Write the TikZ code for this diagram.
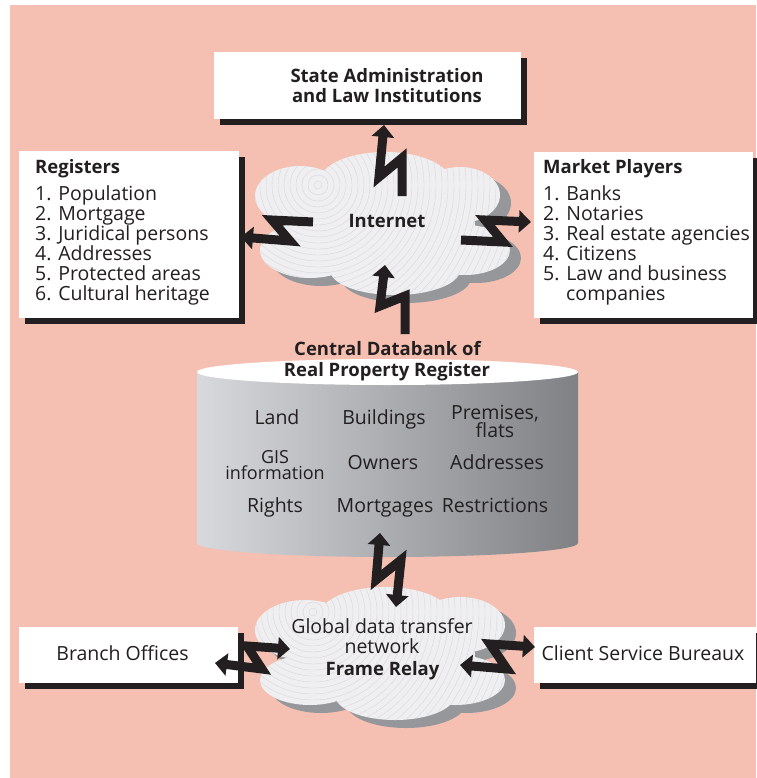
\documentclass[tikz,border=0pt]{standalone}
\usepackage{fontspec}
\setmainfont{Open Sans}
\usetikzlibrary{arrows.meta,shadows}
\definecolor{bg}{RGB}{245,192,178}
\definecolor{ink}{RGB}{35,31,32}
\definecolor{cloudfill}{RGB}{239,239,241}
\definecolor{cloudline}{RGB}{216,216,221}
\definecolor{cloudshadow}{RGB}{150,151,155}
\definecolor{cylL}{RGB}{216,217,220}
\definecolor{cylM}{RGB}{186,187,190}
\definecolor{cylR}{RGB}{128,129,133}
\newcommand\fs{\fontsize{19.5}{20}\selectfont}
\newcommand\fsb{\fontsize{18.5}{20}\selectfont\bfseries}
\newcommand\inetlobes{(300,196) ellipse[x radius=45pt,y radius=30pt]
  (385,181) ellipse[x radius=65pt,y radius=29pt]
  (460,195) ellipse[x radius=40pt,y radius=28pt]
  (465,250) ellipse[x radius=45pt,y radius=25pt]
  (395,270) ellipse[x radius=65pt,y radius=25pt]
  (310,250) ellipse[x radius=50pt,y radius=28pt]
  (385,225) ellipse[x radius=90pt,y radius=50pt]}
\newcommand\frlobes{(385,615) ellipse[x radius=65pt,y radius=28pt]
  (305,630) ellipse[x radius=50pt,y radius=30pt]
  (460,625) ellipse[x radius=45pt,y radius=28pt]
  (310,680) ellipse[x radius=50pt,y radius=25pt]
  (455,680) ellipse[x radius=50pt,y radius=25pt]
  (395,695) ellipse[x radius=60pt,y radius=25pt]
  (385,655) ellipse[x radius=90pt,y radius=45pt]}
\begin{document}
\begin{tikzpicture}[x=1pt,y=-1pt,
  box/.style={fill=white, inner sep=0pt, anchor=north west,
    drop shadow={shadow xshift=6pt, shadow yshift=-6pt, fill=ink, opacity=1}},
  txt/.style={inner sep=0pt, text=ink, font=\fs, anchor=base west},
  txtb/.style={txt, font=\fsb},
  ctxt/.style={txt, anchor=base},
  ctxtb/.style={txtb, anchor=base},
  bolt/.style={draw=ink, line width=9pt, line join=miter, miter limit=10, -{Triangle[width=22pt,length=12pt]}},
  dbolt/.style={bolt, {Triangle[width=22pt,length=12pt]}-{Triangle[width=22pt,length=12pt]}},
]
\useasboundingbox (0,0) rectangle (756,778);
\fill[bg] (10,5) rectangle (756,778);

% boxes
\node[box, minimum width=307pt, minimum height=67pt] (state) at (214,52) {};
\node[box, minimum width=220pt, minimum height=167pt] (registers) at (19,151) {};
\node[box, minimum width=219pt, minimum height=166pt] (market) at (534,152) {};
\node[box, minimum width=219pt, minimum height=56pt] (branch) at (19,627) {};
\node[box, minimum width=222pt, minimum height=56pt] (client) at (534,627) {};

% Internet cloud
\fill[cloudshadow, shift={(11,8)}] \inetlobes;
\begin{scope}
  \clip \inetlobes;
  \fill[cloudfill] (200,100) rectangle (560,340);
  \foreach \r in {4,10,...,262} \draw[cloudline, line width=0.4pt] (318,185) circle[radius=\r pt];
\end{scope}
\coordinate (internet) at (387,222);

% Frame relay cloud
\fill[cloudshadow, shift={(11,8)}] \frlobes;
\begin{scope}
  \clip \frlobes;
  \fill[cloudfill] (200,560) rectangle (560,760);
  \foreach \r in {4,10,...,262} \draw[cloudline, line width=0.4pt] (313,612) circle[radius=\r pt];
\end{scope}
\coordinate (frame) at (382,655);

% cylinder
\shade[left color=cylL, middle color=cylM, right color=cylR]
  (197,372) -- (197,543) arc[start angle=180, end angle=360, x radius=190.5pt, y radius=14pt] -- (578,372) -- cycle;
\fill[white] (387.5,372) ellipse[x radius=190.5pt, y radius=13pt];
\coordinate (db) at (387.5,457);

% bolt end points
\coordinate (a1) at (402,196); \coordinate (a2) at (384,125);
\coordinate (b1) at (313,222); \coordinate (b2) at (241,237);
\coordinate (c1) at (461,240); \coordinate (c2) at (531,222);
\coordinate (d1) at (405,334); \coordinate (d2) at (385,265);
\coordinate (e1) at (380,533); \coordinate (e2) at (396,607);
\coordinate (f1) at (215,663); \coordinate (f2) at (290,649);
\coordinate (g1) at (460,665); \coordinate (g2) at (535,647);

\draw[bolt] (a1) -- (402,158) -- (379,177) -- (a2);
\draw[bolt] (b1) -- (272,220) -- (290,241) -- (b2);
\draw[bolt] (c1) -- (503,242) -- (485,220) -- (c2);
\draw[bolt] (d1) -- (405,296) -- (380,306) -- (d2);
\draw[dbolt] (e1) -- (376,580) -- (401,560) -- (e2);
\draw[dbolt] (f1) -- (262,669) -- (247,646) -- (f2);
\draw[dbolt] (g1) -- (507,669) -- (490,644) -- (g2);

% texts
\node[ctxtb] (statet1) at (387,83) {State Administration};
\node[ctxtb] (statet2) at (387,103) {and Law Institutions};

\node[txtb] (regt) at (35,174) {Registers};
\node[txt] at (35,200) {1. Population};
\node[txt] at (35,220) {2. Mortgage};
\node[txt] at (35,240) {3. Juridical persons};
\node[txt] at (35,260) {4. Addresses};
\node[txt] at (35,280) {5. Protected areas};
\node[txt] at (35,300) {6. Cultural heritage};

\node[txtb] (mkt) at (543,174) {Market Players};
\node[txt] at (543,200) {1. Banks};
\node[txt] at (543,220) {2. Notaries};
\node[txt] at (543,240) {3. Real estate agencies};
\node[txt] at (543,260) {4. Citizens};
\node[txt] at (543,280) {5. Law and business};
\node[txt] at (566,300) {companies};

\node[ctxtb] (inett) at (387,227) {Internet};

\node[ctxtb] (dbt1) at (387.5,355) {Central Databank of};
\node[ctxtb] (dbt2) at (387,376) {Real Property Register};

\node[ctxt] at (277,424) {Land};
\node[ctxt] at (384,424) {Buildings};
\node[txt, anchor=center, align=center, font=\fontsize{19.5}{18}\selectfont] at (495,421) {Premises,\\flats};
\node[txt, anchor=center, align=center, font=\fontsize{18}{16}\selectfont] at (275,465) {GIS\\information};
\node[ctxt] at (383,469) {Owners};
\node[ctxt] at (497,469) {Addresses};
\node[ctxt] at (275,512) {Rights};
\node[ctxt] at (385,512) {Mortgages};
\node[ctxt] at (495,512) {Restrictions};

\node[ctxt] at (382,633) {Global data transfer};
\node[ctxt] at (382,653) {network};
\node[ctxtb] at (382.5,675) {Frame Relay};

\node[ctxt] at (122.5,660) {Branch Offices};
\node[ctxt] at (643,660) {Client Service Bureaux};
\end{tikzpicture}
\end{document}
